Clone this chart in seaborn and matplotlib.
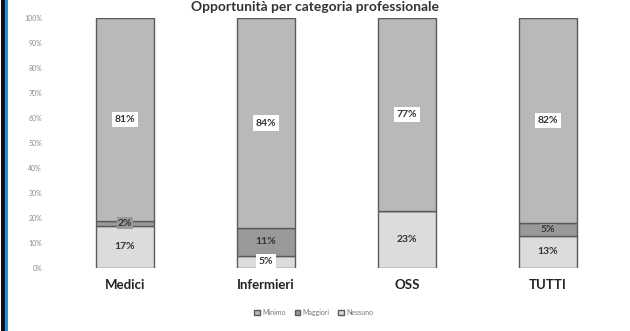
import pandas as pd
import seaborn as sns
import matplotlib.pyplot as plt
from matplotlib.patches import Rectangle
from matplotlib.ticker import PercentFormatter

# Data (shares per professional category)
categories = ['Medici', 'Infermieri', 'OSS', 'TUTTI']
bottom_vals = [17, 5, 23, 13]   # lightest segment
middle_vals = [2, 11, 0, 5]     # dark thin segment
top_vals = [81, 84, 77, 82]     # large grey segment
legend_labels = ['Minimo', 'Maggiori', 'Nessuno']
title = 'Opportunità per categoria professionale'

df = pd.DataFrame({
    'categoria': categories,
    'bottom': [v / 100 for v in bottom_vals],
    'middle': [v / 100 for v in middle_vals],
    'top': [v / 100 for v in top_vals],
})
df['mid_base'] = df['bottom']
df['top_base'] = df['bottom'] + df['middle']

sns.set_theme(style='white')
plt.rcParams['font.family'] = ['Lato', 'DejaVu Sans']

fig = plt.figure(figsize=(6.3, 3.31), dpi=100)
ax = fig.add_axes([54.5 / 630, 63 / 331, 564 / 630, 250 / 331])

edge = '#5a5a5a'
c_top, c_mid, c_bot = '#b9b9b9', '#999999', '#dcdcdc'
w = 0.41

sns.barplot(data=df, x='categoria', y='bottom', color=c_bot, width=w,
            edgecolor=edge, linewidth=1, saturation=1, ax=ax, label=legend_labels[2])
sns.barplot(data=df, x='categoria', y='middle', bottom=df['mid_base'], color=c_mid,
            width=w, edgecolor=edge, linewidth=1, saturation=1, ax=ax, label=legend_labels[1])
sns.barplot(data=df, x='categoria', y='top', bottom=df['top_base'], color=c_top,
            width=w, edgecolor=edge, linewidth=1, saturation=1, ax=ax, label=legend_labels[0])

# data labels
box = dict(boxstyle='square,pad=0.3', facecolor='white', edgecolor='none')
for i, row in df.iterrows():
    ax.text(i, row['top_base'] + row['top'] / 2, f"{round(row['top'] * 100)}%",
            ha='center', va='center', fontsize=7.5, fontweight='bold', color='#333333', bbox=box)
    if row['middle'] > 0:
        ax.text(i, row['mid_base'] + row['middle'] / 2, f"{round(row['middle'] * 100)}%",
                ha='center', va='center', fontsize=7.5, fontweight='bold', color='#333333',
                bbox=dict(boxstyle='square,pad=0.1', facecolor=c_mid, edgecolor='none'))
    lab_box = box if row['bottom'] < 0.08 else None
    ax.text(i, row['bottom'] / 2, f"{round(row['bottom'] * 100)}%",
            ha='center', va='center', fontsize=7.5, fontweight='bold', color='#333333', bbox=lab_box)

ax.set_xlim(-0.5, 3.5)
ax.set_ylim(0, 1)
ax.set_yticks([i / 10 for i in range(11)])
ax.yaxis.set_major_formatter(PercentFormatter(1.0, decimals=0))
ax.tick_params(axis='y', labelsize=5, labelcolor='#8a8a8a', length=0, pad=9)
ax.tick_params(axis='x', labelsize=9.5, length=0, pad=8)
for t in ax.get_xticklabels():
    t.set_fontweight('bold')
    t.set_color('#222222')
ax.set_xlabel('')
ax.set_ylabel('')
sns.despine(ax=ax, left=True, bottom=True)

handles, labels = ax.get_legend_handles_labels()
order = [2, 1, 0]
ax.legend([handles[k] for k in order], [labels[k] for k in order],
          loc='upper center', bbox_to_anchor=(0.46, -0.14), ncol=3, frameon=False,
          fontsize=5, labelcolor='#777777', handlelength=0.8, handleheight=0.8,
          columnspacing=1.2, handletextpad=0.4)

fig.text(0.5, 0.998, title, ha='center', va='top', fontsize=10,
         fontweight='bold', color='#333333')

# screenshot border strip on the left
fig.patches.append(Rectangle((1 / 630, 0), 4 / 630, 1, transform=fig.transFigure,
                             facecolor='#111111', edgecolor='none'))
fig.patches.append(Rectangle((5 / 630, 0), 3 / 630, 1, transform=fig.transFigure,
                             facecolor='#2f8fd8', edgecolor='none'))

fig.savefig('out.png', dpi=100)
